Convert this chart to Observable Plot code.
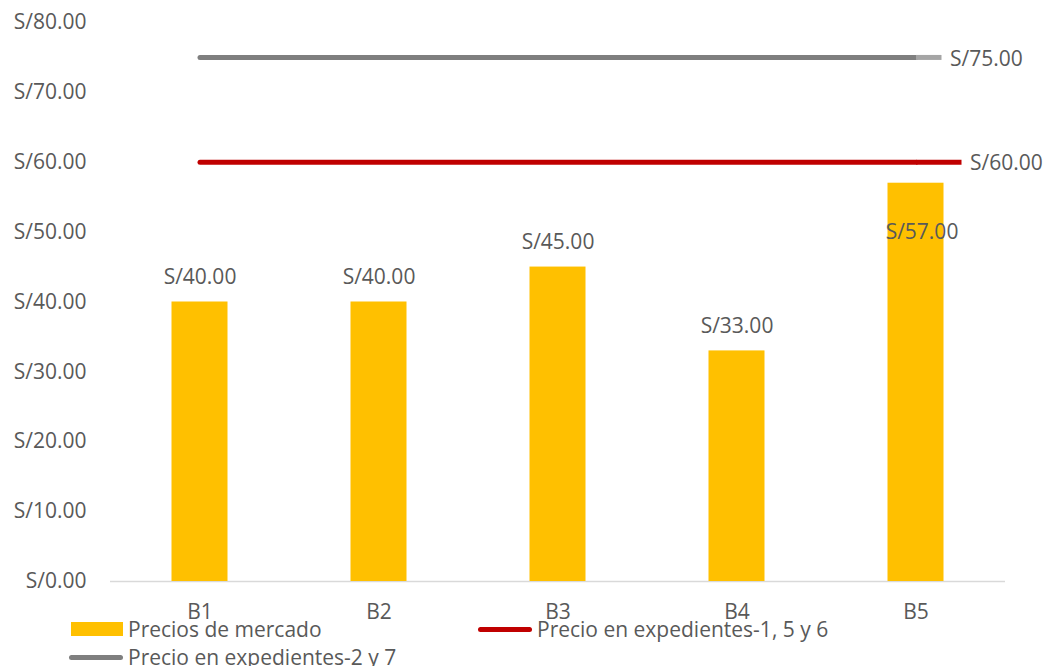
<!DOCTYPE html>
<html>
<head>
<meta charset="utf-8">
<script src="https://cdn.jsdelivr.net/npm/d3@7"></script>
<script src="https://cdn.jsdelivr.net/npm/@observablehq/plot@0.6"></script>
<style>
  html, body { margin: 0; padding: 0; background: #fff; }
  #wrap { position: relative; width: 1045px; height: 666px; font-family: "Open Sans", sans-serif; color: #595959; }
  #wrap svg { position: absolute; left: 0; top: 0; }
  .leg { position: absolute; display: flex; align-items: center; font-size: 21px; line-height: 1; white-space: nowrap; }
  .sw-rect { width: 52px; height: 14px; background: #FFC000; margin-right: 5px; }
  .sw-line { width: 54px; height: 5px; border-radius: 3px; margin-right: 5px; }
</style>
</head>
<body>
<div id="wrap"></div>
<script>
const categories = ["B1", "B2", "B3", "B4", "B5"];
const marketPrices = [40, 40, 45, 33, 57];
const priceExp156 = [60, 60, 60, 60, 60];
const priceExp27 = [75, 75, 75, 75, 75];
const yTicks = [0, 10, 20, 30, 40, 50, 60, 70, 80];
const legendLabels = ["Precios de mercado", "Precio en expedientes-1, 5 y 6", "Precio en expedientes-2 y 7"];

const colors = { market: "#FFC000", red: "#C00000", gray: "#7F7F7F", grayExt: "#A5A5A5", text: "#595959", axis: "#D9D9D9" };

const rows = categories.map((c, i) => ({ cat: c, market: marketPrices[i], p156: priceExp156[i], p27: priceExp27[i] }));
const last = rows[rows.length - 1];
const fmt = d => "S/" + d.toFixed(2);

const chart = Plot.plot({
  width: 1045,
  height: 666,
  marginTop: 22,
  marginBottom: 85,
  marginLeft: 110,
  marginRight: 40,
  style: { fontFamily: "Open Sans", fontSize: "21px", color: colors.text, background: "transparent", overflow: "visible" },
  x: { domain: categories, padding: 0, tickSize: 0, tickPadding: 23, label: null },
  y: { domain: [0, 80], ticks: yTicks, tickFormat: fmt, tickSize: 0, tickPadding: 24, label: null },
  marks: [
    Plot.ruleY([0], { stroke: colors.axis, strokeWidth: 1.5 }),
    Plot.barY(rows, { x: "cat", y: "market", fill: colors.market, insetLeft: 61.5, insetRight: 61.5 }),
    Plot.line(rows, { x: "cat", y: "p27", stroke: colors.gray, strokeWidth: 5, strokeLinecap: "round" }),
    Plot.tickY([last], { x: "cat", y: "p27", stroke: colors.grayExt, strokeWidth: 5, insetLeft: 90, insetRight: 63.5 }),
    Plot.line(rows, { x: "cat", y: "p156", stroke: colors.red, strokeWidth: 5, strokeLinecap: "round" }),
    Plot.tickY([last], { x: "cat", y: "p156", stroke: colors.red, strokeWidth: 5, insetLeft: 90, insetRight: 43.5 }),
    Plot.text(rows.slice(0, 4), { x: "cat", y: "market", text: d => fmt(d.market), dy: -25, fill: colors.text, fontSize: 21 }),
    Plot.text([last], { x: "cat", y: "market", text: d => fmt(d.market), dy: 49, dx: 6, fill: colors.text, fontSize: 21 }),
    Plot.text([last], { x: "cat", y: "p27", text: d => fmt(d.p27), dx: 34, dy: 2, textAnchor: "start", fill: colors.text, fontSize: 21 }),
    Plot.text([last], { x: "cat", y: "p156", text: d => fmt(d.p156), dx: 54, dy: 1, textAnchor: "start", fill: colors.text, fontSize: 21 })
  ]
});

const wrap = document.getElementById("wrap");
wrap.appendChild(chart);

function addLegend(x, y, swatch, label) {
  const d = document.createElement("div");
  d.className = "leg";
  d.style.left = x + "px";
  d.style.top = (y - 11) + "px";
  d.style.height = "22px";
  d.appendChild(swatch);
  const t = document.createElement("span");
  t.textContent = label;
  d.appendChild(t);
  wrap.appendChild(d);
}
const s1 = document.createElement("div"); s1.className = "sw-rect";
addLegend(71, 629, s1, legendLabels[0]);
const s2 = document.createElement("div"); s2.className = "sw-line"; s2.style.background = colors.red;
addLegend(478, 629, s2, legendLabels[1]);
const s3 = document.createElement("div"); s3.className = "sw-line"; s3.style.background = colors.gray;
addLegend(69, 657, s3, legendLabels[2]);
</script>
</body>
</html>
